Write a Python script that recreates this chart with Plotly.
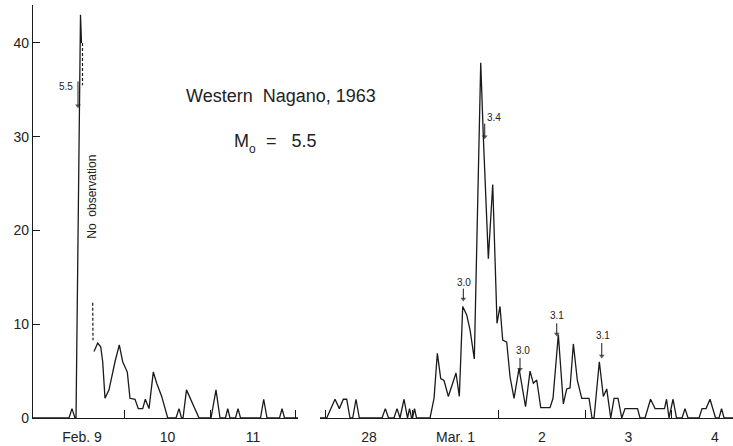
import plotly.graph_objects as go

# ---- data (hours from start of first day of each panel; counts) ----
# Left panel: hours after Feb 9 00:00
left_h = [-1.75, 8.35, 9.19, 10.04, 10.32, 11.58, 11.86]
left_n = [0, 0, 1, 0, 0, 43, 40]
gap_dash1_h = [12.14, 12.14]
gap_dash1_n = [40, 35.5]
gap_dash2_h = [15.0, 15.1]
gap_dash2_n = [12.3, 8.3]
left2_h = [15.37, 16.41, 17.25, 17.81, 18.46, 19.58, 21.26, 22.47, 23.42, 24.72,
           25.47, 26.88, 27.80, 29.04, 29.77, 30.81, 32.01, 32.97, 34.37, 36.06,
           38.39, 39.23, 39.93, 40.35, 41.33, 44.84, 48.21, 49.61, 50.74, 52.28,
           52.90, 53.54, 55.09, 55.79, 56.49, 62.10, 63.00, 63.93, 67.44, 68.14,
           68.84, 72.63]
left2_n = [7.1, 8.0, 7.6, 6.0, 2.1, 3.0, 6.0, 7.8, 6.0, 4.9,
           2.1, 2.0, 1.0, 1.0, 2.0, 1.0, 4.9, 3.7, 2.3, 0,
           0, 1, 0, 0, 3, 0, 0, 3, 0, 0,
           1, 0, 0, 1, 0, 0, 2, 0, 0, 1,
           0, 0]

# Right panel: hours after Feb 28 00:00
right_h = [-1.6, 0.26, 2.57, 3.76, 4.87, 5.81, 6.73, 7.48, 8.39, 9.31,
           15.61, 16.53, 17.41, 18.94, 19.77, 20.60, 21.71, 22.69, 23.24, 23.80,
           24.07, 24.63, 25.18, 28.93, 30.04, 30.96, 31.90, 32.81, 34.01, 36.14,
           37.06, 38.00, 39.11, 40.03, 41.22, 43.00, 43.72, 45.11, 46.33, 47.52,
           48.35, 49.10, 50.21, 51.13, 52.24, 53.63, 55.43, 56.68, 57.60, 58.54,
           59.65, 62.23, 63.06, 64.53, 65.92, 66.86, 67.78, 68.70, 69.81, 71.03,
           73.05, 73.88, 74.44, 75.91, 77.02, 77.96, 79.07, 79.99, 81.10, 82.13,
           83.04, 86.51, 87.20, 88.59, 90.12, 91.37, 94.00, 94.56, 95.25, 96.36,
           97.33, 98.86, 99.69, 100.52, 103.58, 104.41, 105.52, 106.63, 108.16, 109.13,
           109.82, 110.52, 113.0]
right_n = [0, 0, 2, 1, 2, 2, 0, 0, 2, 0,
           0, 1, 0, 0, 1, 0, 2, 0, 1, 0,
           0, 1, 0, 0, 2.1, 6.9, 4.2, 4.0, 2.3, 4.8,
           2.3, 11.9, 11.0, 9.4, 6.3, 37.9, 30, 17, 24.9, 10.1,
           11.9, 8.3, 8.1, 4.4, 2.1, 5.3, 1.2, 5.0, 3.7, 4.05,
           1.1, 1.1, 2.1, 8.9, 1.5, 3.1, 3.2, 7.9, 4.0, 2.1,
           2.1, 0, 0, 6.0, 2.3, 3.1, 0, 2.1, 2.1, 0,
           1, 1, 0, 0, 2, 1, 1, 2, 0, 2,
           0, 0, 1, 0, 0, 1, 1, 2, 0, 0,
           1, 0, 0]

left_tickvals = [12, 36, 60]
left_ticktext = ["Feb. 9", "10", "11"]
right_tickvals = [12, 36, 60, 84, 108]
right_ticktext = ["28", "Mar. 1", "2", "3", "4"]
y_tickvals = [0, 10, 20, 30, 40]

# magnitude labels: axis, label, label x, label y, arrow x, arrow tail y, arrow tip y
mag_axis = ["x", "x2", "x2", "x2", "x2", "x2"]
mag_text = ["5.5", "3.0", "3.4", "3.0", "3.1", "3.1"]
mag_text_x = [7.51, 38.36, 46.69, 54.74, 64.17, 76.94]
mag_text_y = [35.4, 14.5, 32.0, 7.25, 10.9, 8.75]
mag_arrow_x = [10.88, 38.17, 44.11, 53.9, 64.09, 76.58]
mag_arrow_tail = [35.9, 13.8, 31.4, 6.4, 10.1, 8.0]
mag_arrow_tip = [33.3, 12.7, 30.0, 5.2, 8.95, 6.6]

INK = "#1a1a1a"
FONT = "Liberation Sans, Arial, sans-serif"

fig = go.Figure()
line = dict(color=INK, width=1.3)
fig.add_trace(go.Scatter(x=left_h, y=left_n, mode="lines", line=line, xaxis="x", yaxis="y"))
fig.add_trace(go.Scatter(x=gap_dash1_h, y=gap_dash1_n, mode="lines",
                         line=dict(color=INK, width=1.2, dash="3px,2px"), xaxis="x", yaxis="y"))
fig.add_trace(go.Scatter(x=gap_dash2_h, y=gap_dash2_n, mode="lines",
                         line=dict(color=INK, width=1.2, dash="3px,2px"), xaxis="x", yaxis="y"))
fig.add_trace(go.Scatter(x=left2_h, y=left2_n, mode="lines", line=line, xaxis="x", yaxis="y"))
fig.add_trace(go.Scatter(x=right_h, y=right_n, mode="lines", line=line, xaxis="x2", yaxis="y"))

# arrows as short vertical lines with a small arrowhead marker at the tip
for ax_id, xa, yt, yp in zip(mag_axis, mag_arrow_x, mag_arrow_tail, mag_arrow_tip):
    fig.add_trace(go.Scatter(x=[xa, xa], y=[yt, yp], mode="lines+markers",
                             line=dict(color=INK, width=1),
                             marker=dict(symbol=["line-ew", "triangle-down"], size=[0, 5],
                                         color=INK, line=dict(width=0)),
                             xaxis=ax_id, yaxis="y", hoverinfo="skip"))

axfont = dict(family=FONT, size=14, color="#222")
common_x = dict(showgrid=False, zeroline=False, showline=True, linecolor=INK, linewidth=1.2,
                ticks="", tickfont=axfont, ticklabelstandoff=6, anchor="y")
fig.update_layout(
    width=733, height=446,
    margin=dict(l=33, r=0, t=5, b=28),
    paper_bgcolor="white", plot_bgcolor="white",
    showlegend=False,
    xaxis=dict(domain=[0, 0.3786], range=[-1.75, 72.63], tickmode="array",
               tickvals=left_tickvals, ticktext=left_ticktext,
               minor=dict(tickmode="array", tickvals=[24, 48, 72], ticks="inside",
                          ticklen=8, tickcolor=INK, tickwidth=1.2),
               **common_x),
    xaxis2=dict(domain=[0.41, 1], range=[-1.6, 113.0], tickmode="array",
                tickvals=right_tickvals, ticktext=right_ticktext,
                minor=dict(tickmode="array", tickvals=[0, 24, 48, 72, 96], ticks="inside",
                           ticklen=8, tickcolor=INK, tickwidth=1.2),
                **common_x),
    yaxis=dict(range=[0, 44.05], tickmode="array", tickvals=y_tickvals,
               showgrid=False, zeroline=False, showline=True, linecolor=INK, linewidth=1.2,
               ticks="inside", ticklen=7, tickcolor=INK, tickfont=axfont, anchor="x"),
)

ann_font = dict(family=FONT, size=10, color="#222")
for ax_id, t, tx, ty in zip(mag_axis, mag_text, mag_text_x, mag_text_y):
    fig.add_annotation(x=tx, y=ty, xref=ax_id, yref="y", text=t, showarrow=False,
                       xanchor="center", yanchor="middle", font=ann_font)

big = dict(family=FONT, size=18, color="#222")
fig.add_annotation(x=14.81, y=23.6, xref="x", yref="y", text="No  observation",
                   textangle=-90, showarrow=False, xanchor="center", yanchor="middle",
                   font=dict(family=FONT, size=12, color="#222"))
fig.add_annotation(x=0.354, y=0.78, xref="paper", yref="paper", text="Western  Nagano, 1963",
                   showarrow=False, xanchor="center", yanchor="middle", font=big)
fig.add_annotation(x=0.2843, y=0.671, xref="paper", yref="paper", xanchor="left",
                   yanchor="middle", text="M", showarrow=False, font=big)
fig.add_annotation(x=0.3057, y=0.652, xref="paper", yref="paper", xanchor="left",
                   yanchor="middle", text="o", showarrow=False,
                   font=dict(family=FONT, size=12, color="#222"))
fig.add_annotation(x=0.33, y=0.671, xref="paper", yref="paper", xanchor="left",
                   yanchor="middle", text="=   5.5", showarrow=False, font=big)

fig.write_html("out.html")
